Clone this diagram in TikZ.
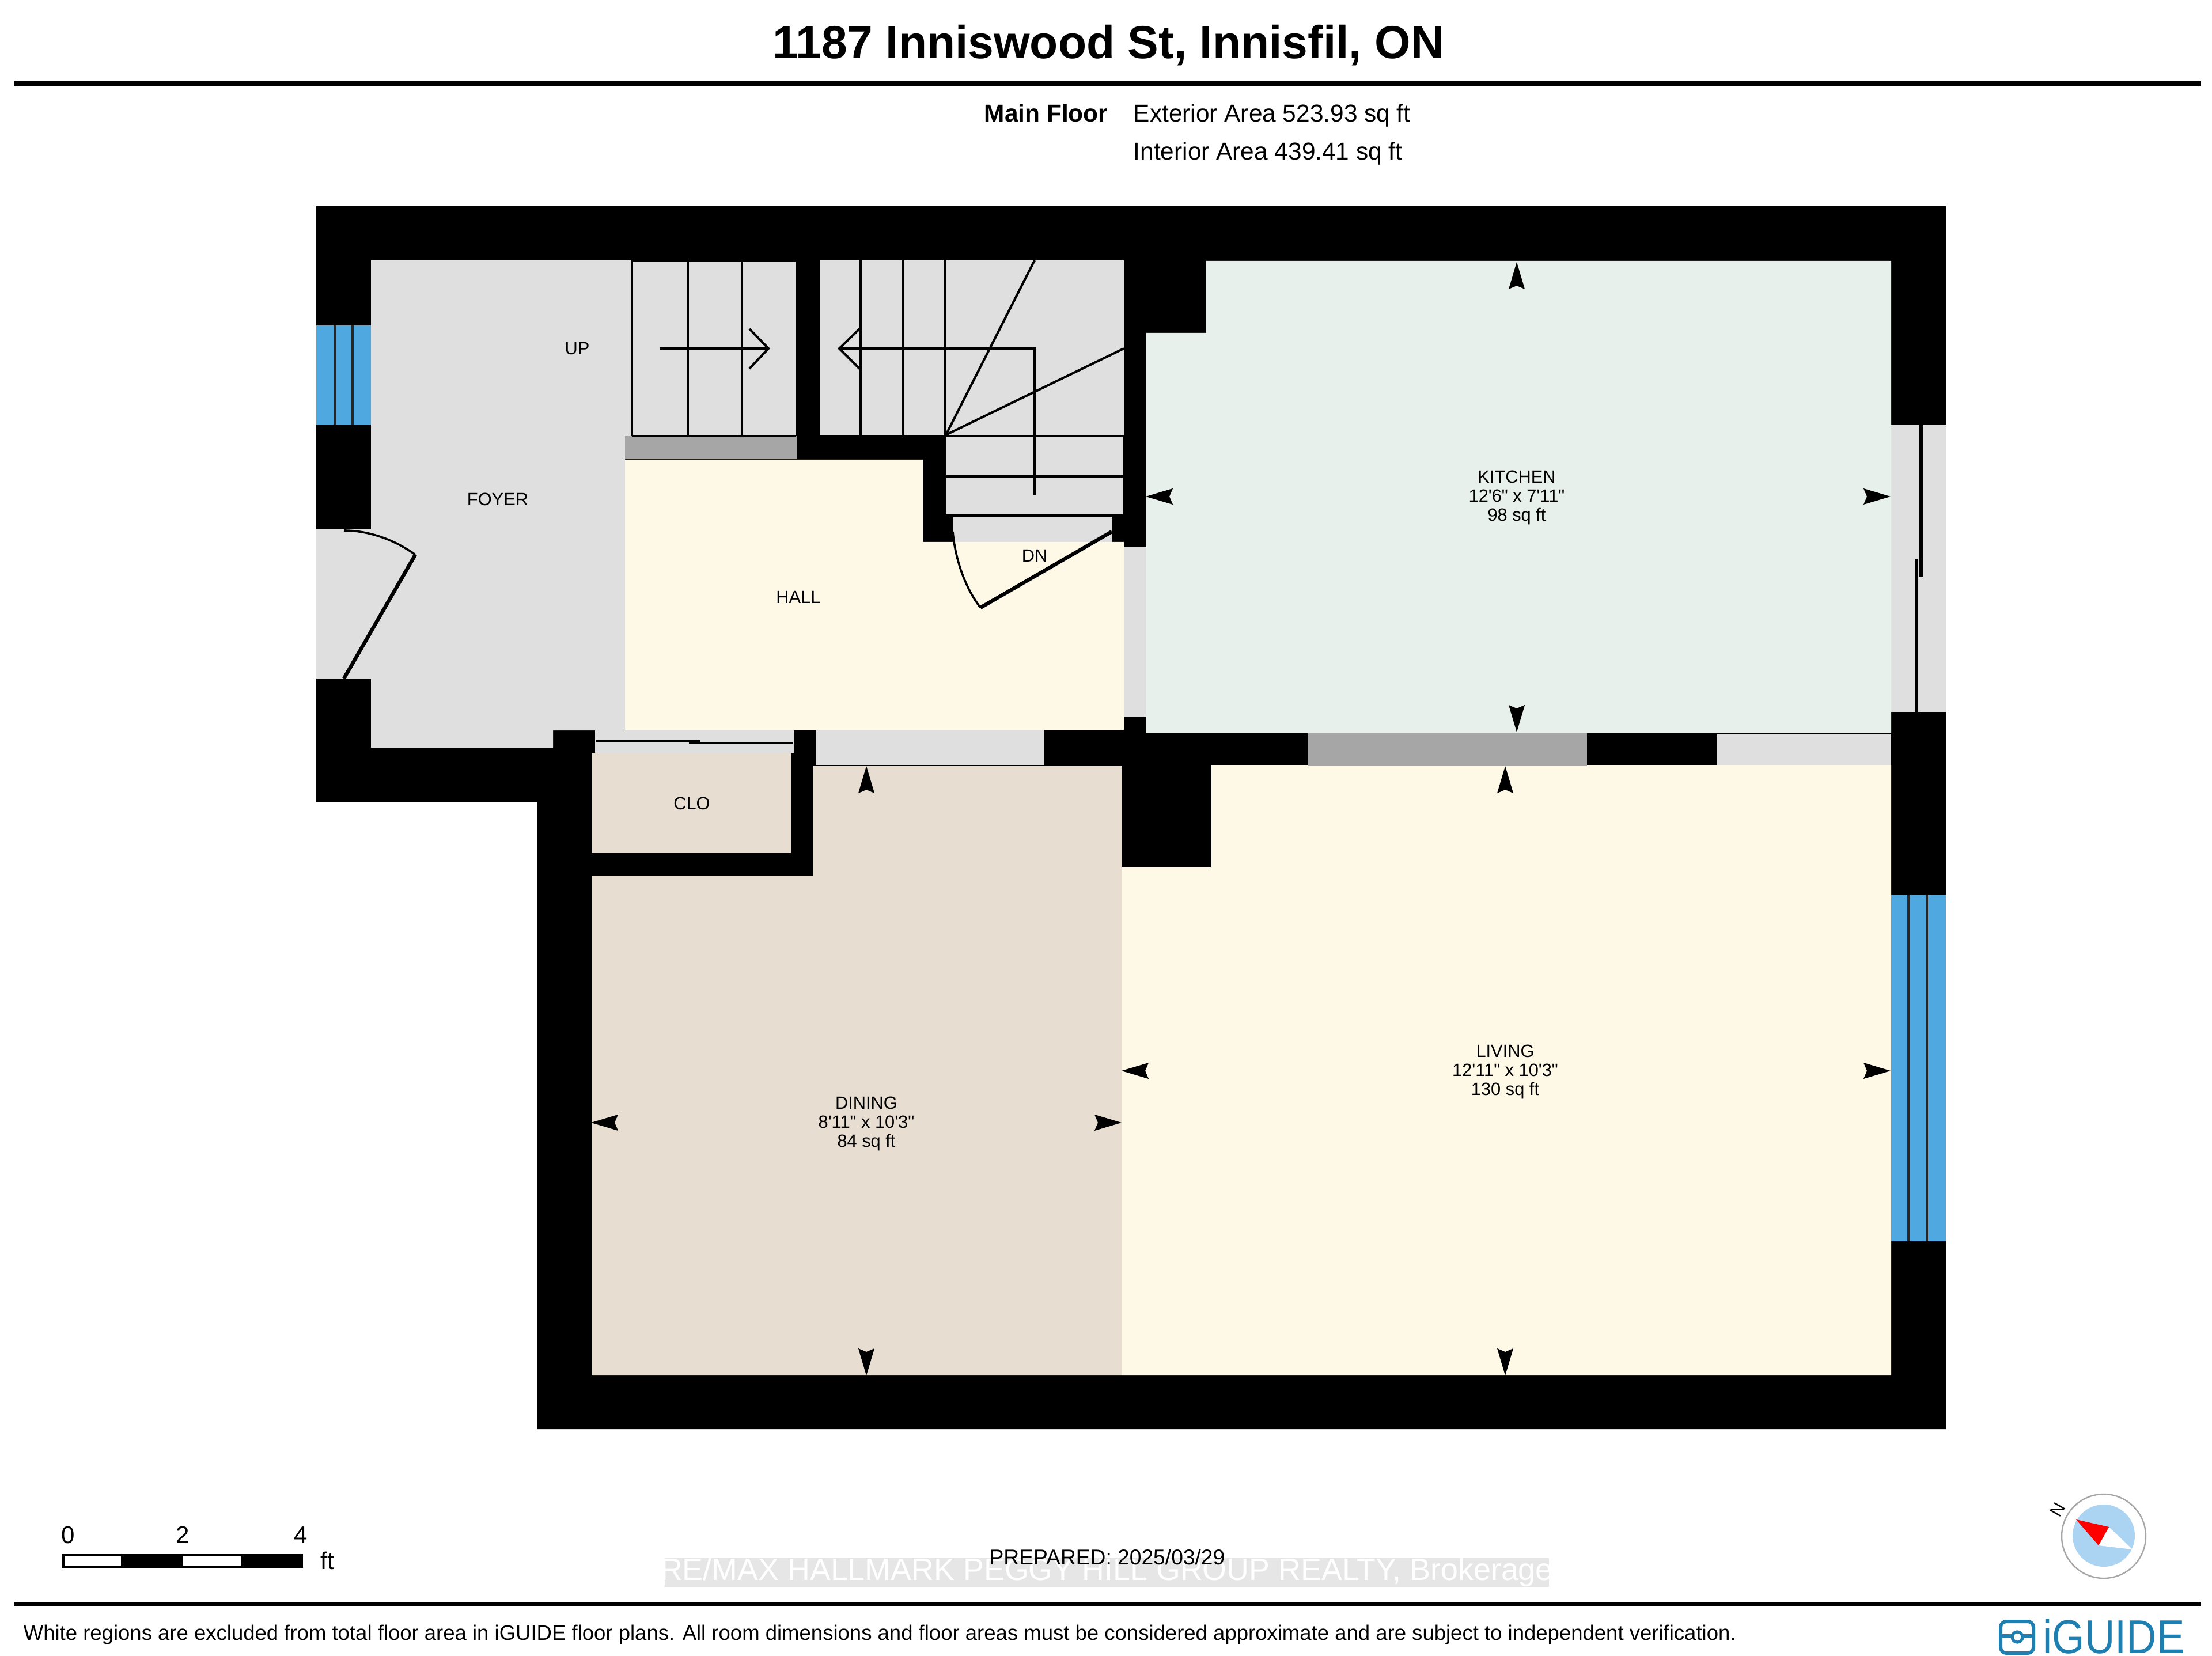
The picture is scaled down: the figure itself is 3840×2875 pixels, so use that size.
\documentclass[tikz,border=0pt]{standalone}
\usepackage{fontspec}
\newfontfamily\lib{Liberation Sans}
\definecolor{greyroom}{HTML}{DFDFDF}
\definecolor{hallcol}{HTML}{FEF9E7}
\definecolor{kitchencol}{HTML}{E8F0EB}
\definecolor{diningcol}{HTML}{E7DED1}
\definecolor{wincol}{HTML}{4FA9E0}
\definecolor{lintel}{HTML}{A6A6A6}
\definecolor{compassblue}{HTML}{ABD4F2}
\definecolor{logoblue}{HTML}{1E7FB0}
\definecolor{wmark}{HTML}{E6E6E6}
\newcommand{\pxfont}[2]{\lib\fontsize{#1}{#2}\selectfont}
\newcommand{\dimtip}[3]{\fill[black,shift={(#1,#2)},rotate=#3] (0,0) -- (-47,14) -- (-41,0) -- (-47,-14) -- cycle;}
\tikzset{
  roomlabel/.style={font=\pxfont{7.7}{8.25},align=center,inner sep=0pt,text=black},
  header/.style={font=\pxfont{10.6}{12},inner sep=0pt},
  scaletext/.style={font=\pxfont{10.5}{12},inner sep=0pt},
  stairline/.style={line width=1pt,black},
  doorline/.style={line width=1.6pt,black},
  arcline/.style={line width=0.9pt,black},
  rulebar/.style={line width=1.9pt,black},
  winline/.style={line width=0.8pt,black!85}
}
\begin{document}
\begin{tikzpicture}[x=0.25pt,y=-0.25pt]
\useasboundingbox (0,0) rectangle (3840,2875);
\fill[white] (0,0) rectangle (3840,2875);
% title
\node[font=\pxfont{20.1}{24}\bfseries,inner sep=0pt] (title) at (1924,79) {1187 Inniswood St, Innisfil, ON};
\coordinate (rtl) at (25,145); \coordinate (rtr) at (3821,145);
\draw[rulebar] (rtl) -- (rtr);
\node[header,anchor=east,font=\pxfont{10.6}{12}\bfseries] (mainfloor) at (1924,196) {Main Floor};
\node[header,anchor=west] (ext) at (1967,201) {Exterior Area 523.93 sq ft};
\node[header,anchor=west] (int) at (1967,267) {Interior Area 439.41 sq ft};
% walls
\fill[black] (549,358) -- (3378,358) -- (3378,2481) -- (932,2481) -- (932,1392) -- (549,1392) -- cycle;
% grey spaces
\fill[greyroom] (644,452) -- (1381,452) -- (1381,757) -- (1085,757) -- (1085,1268) -- (960,1268) -- (960,1298) -- (644,1298) -- cycle;
\fill[greyroom] (1424,452) -- (1951,452) -- (1951,755) -- (1949,755) -- (1949,896) -- (1642,896) -- (1642,755) -- (1424,755) -- cycle;
\fill[greyroom] (1654,896) rectangle (1930,941);
\fill[greyroom] (549,919) rectangle (644,1178);
\fill[greyroom] (1951,950) rectangle (1990,1244);
\fill[greyroom] (3283,737) rectangle (3378,1236);
\fill[greyroom] (1417,1268) rectangle (1812,1328);
\fill[greyroom] (1033,1268) rectangle (1378,1307);
\fill[greyroom] (2980,1274) rectangle (3283,1328);
% rooms
\fill[hallcol] (1085,798) -- (1602,798) -- (1602,941) -- (1951,941) -- (1951,1267) -- (1085,1267) -- cycle;
\fill[kitchencol] (2094,453) -- (3283,453) -- (3283,1272) -- (1990,1272) -- (1990,578) -- (2094,578) -- cycle;
\fill[diningcol] (1028,1308) rectangle (1373,1481);
\fill[diningcol] (1412,1329) -- (1947,1329) -- (1947,2388) -- (1027,2388) -- (1027,1520) -- (1412,1520) -- cycle;
\fill[hallcol] (2103,1328) -- (3283,1328) -- (3283,2388) -- (1947,2388) -- (1947,1505) -- (2103,1505) -- cycle;
% lintels
\fill[lintel] (1085,757) rectangle (1384,797);
\fill[lintel] (2270,1273) rectangle (2755,1330);
% windows
\fill[wincol] (549,565) rectangle (644,737);
\draw[winline] (581,565) -- (581,737);
\draw[winline] (612,565) -- (612,737);
\fill[wincol] (3283,1553) rectangle (3378,2155);
\draw[winline] (3313,1553) -- (3313,2155);
\draw[winline] (3345,1553) -- (3345,2155);
% stairs, first flight
\draw[stairline] (1097,452) -- (1097,757);
\draw[stairline] (1194,452) -- (1194,757);
\draw[stairline] (1288,452) -- (1288,757);
\draw[stairline] (1097,452) -- (1381,452);
\draw[stairline] (1097,757) -- (1381,757);
\draw[stairline] (1145,605) -- (1334,605);
\draw[stairline] (1301,571) -- (1334,605) -- (1301,640);
% stairs, second flight
\draw[stairline] (1494,452) -- (1494,755);
\draw[stairline] (1568,452) -- (1568,755);
\draw[stairline] (1641,452) -- (1641,755);
\draw[stairline] (1642,755) -- (1796,452);
\draw[stairline] (1642,755) -- (1951,605);
\draw[stairline] (1642,757) -- (1949,757);
\draw[stairline] (1642,827) -- (1949,827);
\draw[stairline] (1642,895) -- (1951,895);
\draw[stairline] (1796,860) -- (1796,605) -- (1457,605);
\draw[stairline] (1492,571) -- (1457,605) -- (1492,640);
% doors
\draw[doorline] (597,1178) -- (721,963);
\draw[arcline] (597,921) .. controls (640,921) and (685,937) .. (721,963);
\draw[doorline] (1930,923) -- (1702,1055);
\draw[arcline] (1654,923) .. controls (1658,970) and (1675,1020) .. (1702,1055);
\draw[line width=1.1pt] (1034,1286) -- (1215,1286);
\draw[line width=1.1pt] (1196,1290) -- (1377,1290);
\draw[line width=1.3pt] (3335,737) -- (3335,1001);
\draw[line width=1.3pt] (3327,971) -- (3327,1236);
% room labels
\node[roomlabel] (up) at (1002,605) {UP};
\node[roomlabel] (foyer) at (864,867) {FOYER};
\node[roomlabel] (hall) at (1386,1037) {HALL};
\node[roomlabel] (dn) at (1796,965) {DN};
\node[roomlabel] (clo) at (1201,1395) {CLO};
\node[roomlabel] (kitchen) at (2633,864) {KITCHEN\\12'6" x 7'11"\\98 sq ft};
\node[roomlabel] (dining) at (1504,1951) {DINING\\8'11" x 10'3"\\84 sq ft};
\node[roomlabel] (living) at (2613,1861) {LIVING\\12'11" x 10'3"\\130 sq ft};
% dimension tips
\dimtip{2633}{455}{90} \dimtip{2633}{1271}{270} \dimtip{1989}{862}{180} \dimtip{3282}{862}{0}
\dimtip{2613}{1330}{90} \dimtip{2613}{2388}{270} \dimtip{1947}{1859}{180} \dimtip{3282}{1859}{0}
\dimtip{1504}{1330}{90} \dimtip{1504}{2388}{270} \dimtip{1026}{1949}{180} \dimtip{1947}{1949}{0}
% scale bar
\fill[white,draw=black,line width=0.8pt] (110,2700) rectangle (524,2720);
\fill[black] (210,2699) rectangle (317,2721);
\fill[black] (418,2699) rectangle (524,2721);
\node[scaletext] (s0) at (118,2665) {0};
\node[scaletext] (s2) at (317,2665) {2};
\node[scaletext] (s4) at (522,2665) {4};
\node[scaletext] (sft) at (568,2709) {ft};
% watermark
\fill[wmark] (1154,2705) rectangle (2689,2755);
\begin{scope}
\clip (1154,2700) rectangle (2689,2760);
\node[font=\pxfont{13.45}{15},text=white,inner sep=0pt] (wm) at (1921,2730) {RE/MAX HALLMARK PEGGY HILL GROUP REALTY, Brokerage};
\end{scope}
\node[font=\pxfont{9.3}{11},inner sep=0pt] (prep) at (1922,2703) {PREPARED: 2025/03/29};
% compass
\draw[gray!70,fill=white,line width=0.6pt] (3652,2667) circle (73);
\fill[compassblue] (3652,2666) circle (54);
\fill[white] (3661,2651) -- (3702,2690) -- (3643,2683) -- cycle;
\fill[red] (3604,2638) -- (3661,2651) -- (3643,2683) -- cycle;
\node[font=\pxfont{7.5}{9},rotate=60,inner sep=0pt] (north) at (3572,2621) {N};
% footer
\coordinate (rbl) at (25,2785); \coordinate (rbr) at (3821,2785);
\draw[rulebar] (rbl) -- (rbr);
\node[font=\pxfont{9.13}{11},anchor=west,inner sep=0pt] (foot) at (40,2838) {White regions are excluded from total floor area in iGUIDE floor plans. All room dimensions and floor areas must be considered approximate and are subject to independent verification.};
% logo
\draw[logoblue,line width=1.5pt,rounded corners=2.5pt] (3473,2815) rectangle (3530,2870);
\draw[logoblue,line width=1.3pt] (3473,2840) -- (3530,2840);
\draw[logoblue,fill=white,line width=1.3pt] (3502,2842) circle (9);
\node[font=\pxfont{20.6}{24},text=logoblue,xscale=0.88,anchor=west,inner sep=0pt] (logo) at (3546,2841) {iGUIDE};
\end{tikzpicture}
\end{document}
